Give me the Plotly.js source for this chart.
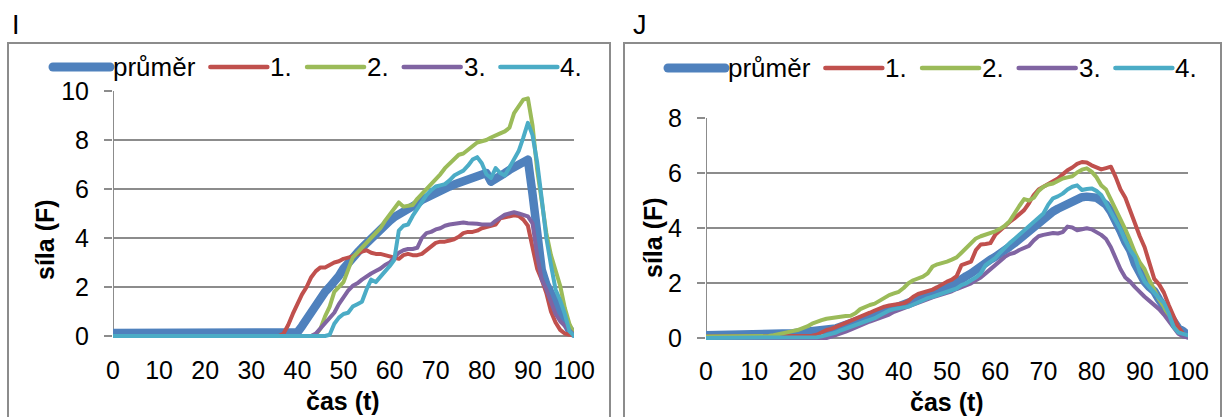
<!DOCTYPE html>
<html>
<head>
<meta charset="utf-8">
<script src="https://cdn.plot.ly/plotly-3.0.1.min.js"></script>
<style>
  html, body { margin: 0; padding: 0; background: #fff; }
  #graf { width: 1223px; height: 417px; }
  .scatterlayer .js-line { stroke-linecap: round; stroke-linejoin: round; }
  .shapelayer path { stroke-linecap: round; }
</style>
</head>
<body>
<div id="graf"></div>
<script>
// Time samples 0..100 shared by every series
const cas = Array.from({ length: 101 }, (_, i) => i);

// Series names and legend order
const nazvy = ['průměr', '1.', '2.', '3.', '4.'];

// ---------- Panel I ----------
const prumer_I = [
  0.12,0.12,0.12,0.12,0.12,0.12,0.12,0.12,0.12,0.12,
  0.12,0.12,0.12,0.12,0.12,0.12,0.12,0.12,0.12,0.12,
  0.12,0.12,0.12,0.12,0.12,0.12,0.12,0.12,0.12,0.12,
  0.12,0.12,0.12,0.12,0.12,0.12,0.12,0.12,0.12,0.12,
  0.15,0.4,0.7,1.0,1.3,1.55,1.8,2.0,2.2,2.45,
  2.75,3.0,3.2,3.4,3.6,3.8,3.92,4.15,4.35,4.55,
  4.7,4.85,4.95,5.05,5.12,5.25,5.4,5.55,5.65,5.78,
  5.85,5.93,6.0,6.1,6.18,6.25,6.35,6.45,6.5,6.57,
  6.62,6.65,6.3,6.45,6.55,6.65,6.78,6.9,7.05,7.15,
  7.2,5.8,4.3,2.7,2.1,1.7,1.4,1.0,0.6,0.25,
  0.1
];
const s1_I = [
  0,0,0,0,0,0,0,0,0,0,
  0,0,0,0,0,0,0,0,0,0,
  0,0,0,0,0,0,0,0,0,0,
  0,0,0,0,0,0,0,0.1,0.45,0.9,
  1.3,1.7,2.0,2.4,2.65,2.8,2.8,2.9,3.0,3.05,
  3.15,3.2,3.25,3.35,3.45,3.5,3.4,3.35,3.35,3.3,
  3.25,3.2,3.15,3.3,3.35,3.3,3.3,3.35,3.5,3.7,
  3.8,3.85,3.85,3.9,3.95,4.05,4.2,4.25,4.25,4.3,
  4.4,4.45,4.5,4.55,4.8,4.85,4.9,4.93,4.9,4.75,
  4.5,3.7,2.75,2.3,1.75,1.0,0.55,0.25,0.1,0.05,
  0.05
];
const s2_I = [
  0,0,0,0,0,0,0,0,0,0,
  0,0,0,0,0,0,0,0,0,0,
  0,0,0,0,0,0,0,0,0,0,
  0,0,0,0,0,0,0,0,0,0,
  0,0,0,0,0.05,0.3,0.8,1.2,1.8,2.0,
  2.2,2.7,3.2,3.4,3.6,3.8,3.95,4.2,4.4,4.7,
  4.95,5.25,5.45,5.28,5.3,5.35,5.6,5.8,5.95,6.15,
  6.35,6.6,6.85,7.05,7.25,7.4,7.45,7.6,7.75,7.9,
  7.95,8.0,8.1,8.2,8.27,8.35,8.5,9.1,9.35,9.65,
  9.7,8.6,6.8,5.5,4.2,3.3,2.6,2.05,1.15,0.5,
  0.1
];
const s3_I = [
  0,0,0,0,0,0,0,0,0,0,
  0,0,0,0,0,0,0,0,0,0,
  0,0,0,0,0,0,0,0,0,0,
  0,0,0,0,0,0,0,0,0,0,
  0,0,0,0,0.1,0.3,0.5,0.7,0.95,1.3,
  1.6,1.85,2.05,2.15,2.3,2.45,2.55,2.65,2.75,2.9,
  3.0,3.2,3.4,3.5,3.55,3.55,3.6,4.0,4.2,4.25,
  4.35,4.4,4.5,4.55,4.58,4.62,4.63,4.6,4.6,4.58,
  4.55,4.53,4.55,4.7,4.85,4.95,5.0,5.05,5.0,4.95,
  4.88,4.6,3.3,2.3,1.9,1.4,0.9,0.6,0.4,0.2,
  0.05
];
const s4_I = [
  0,0,0,0,0,0,0,0,0,0,
  0,0,0,0,0,0,0,0,0,0,
  0,0,0,0,0,0,0,0,0,0,
  0,0,0,0,0,0,0,0,0,0,
  0,0,0,0,0,0,0,0.05,0.5,0.75,
  0.9,0.95,1.2,1.3,1.4,1.9,2.3,2.2,2.4,2.6,
  2.85,3.1,4.3,4.5,4.55,4.9,5.2,5.5,5.75,5.95,
  6.1,6.15,6.2,6.35,6.55,6.65,6.75,6.95,7.2,7.3,
  7.05,6.6,6.45,6.85,6.65,6.55,6.9,7.25,7.55,8.1,
  8.7,8.2,7.1,5.6,4.0,2.9,1.9,1.45,0.9,0.2,
  0
];

// ---------- Panel J ----------
const prumer_J = [
  0.1,0.1,0.1,0.1,0.1,0.1,0.1,0.1,0.1,0.1,
  0.1,0.1,0.1,0.1,0.1,0.12,0.13,0.15,0.17,0.19,
  0.2,0.22,0.24,0.27,0.3,0.32,0.33,0.35,0.42,0.48,
  0.53,0.6,0.66,0.73,0.8,0.87,0.92,0.97,1.02,1.08,
  1.15,1.2,1.26,1.33,1.42,1.5,1.55,1.6,1.68,1.74,
  1.82,1.9,2.05,2.15,2.25,2.35,2.5,2.65,2.75,2.85,
  2.95,3.05,3.2,3.32,3.45,3.6,3.78,3.93,4.05,4.2,
  4.38,4.5,4.6,4.7,4.8,4.9,4.96,5.05,5.12,5.14,
  5.14,5.1,4.98,4.85,4.6,4.3,3.9,3.5,3.2,2.7,
  2.3,2.05,1.85,1.7,1.4,1.1,0.8,0.5,0.35,0.25,
  0.1
];
const s1_J = [
  0.05,0.05,0.05,0.05,0.05,0.05,0.05,0.05,0.05,0.05,
  0.05,0.05,0.05,0.05,0.05,0.05,0.05,0.05,0.05,0.05,
  0.05,0.05,0.08,0.12,0.2,0.29,0.33,0.4,0.47,0.55,
  0.62,0.68,0.75,0.85,0.92,1.0,1.08,1.14,1.18,1.2,
  1.22,1.26,1.35,1.5,1.6,1.65,1.7,1.76,1.85,1.97,
  2.05,2.12,2.25,2.65,2.72,2.78,3.2,3.4,3.42,3.45,
  3.75,3.92,4.05,4.22,4.35,4.5,4.65,4.9,5.2,5.4,
  5.5,5.62,5.7,5.8,5.95,6.1,6.2,6.33,6.4,6.38,
  6.28,6.22,6.13,6.18,6.23,5.85,5.4,5.1,4.6,4.1,
  3.7,3.3,2.7,2.15,1.95,1.65,1.2,0.8,0.4,0.15,
  0.05
];
const s2_J = [
  0.05,0.05,0.05,0.05,0.05,0.05,0.05,0.05,0.05,0.05,
  0.05,0.05,0.05,0.07,0.1,0.13,0.17,0.2,0.25,0.29,
  0.34,0.42,0.52,0.6,0.65,0.7,0.73,0.77,0.79,0.8,
  0.81,0.9,1.05,1.14,1.2,1.25,1.35,1.48,1.56,1.62,
  1.68,1.82,1.99,2.1,2.18,2.23,2.35,2.6,2.68,2.72,
  2.78,2.85,2.93,3.1,3.26,3.45,3.62,3.7,3.75,3.8,
  3.88,3.97,4.08,4.25,4.55,4.8,5.05,5.0,5.1,5.35,
  5.5,5.58,5.62,5.72,5.8,5.84,5.88,6.02,6.12,6.17,
  6.05,5.85,5.55,5.4,5.05,4.7,4.3,3.95,3.55,3.1,
  2.75,2.5,2.1,1.74,1.4,1.14,0.8,0.4,0.2,0.1,
  0.05
];
const s3_J = [
  0,0,0,0,0,0,0,0,0,0,
  0,0,0,0,0,0,0,0,0,0,
  0,0,0,0,0,0,0.05,0.1,0.17,0.23,
  0.3,0.38,0.46,0.53,0.6,0.66,0.72,0.78,0.85,0.95,
  1.02,1.08,1.15,1.22,1.3,1.36,1.42,1.48,1.53,1.58,
  1.65,1.7,1.78,1.85,1.93,1.99,2.1,2.2,2.35,2.5,
  2.65,2.8,2.95,3.05,3.1,3.2,3.28,3.35,3.55,3.7,
  3.75,3.8,3.82,3.8,3.85,4.05,4.02,3.92,3.95,3.99,
  3.95,3.85,3.75,3.6,3.3,2.9,2.5,2.2,2.05,1.85,
  1.65,1.5,1.35,1.2,1.05,0.85,0.6,0.35,0.15,0.05,
  0.02
];
const s4_J = [
  0,0,0,0,0,0,0,0,0,0,
  0,0,0,0,0,0,0,0,0,0,
  0,0,0,0.03,0.06,0.1,0.14,0.2,0.28,0.35,
  0.42,0.48,0.53,0.6,0.66,0.72,0.82,0.92,1.0,1.05,
  1.08,1.1,1.14,1.22,1.3,1.38,1.45,1.5,1.56,1.62,
  1.68,1.72,1.8,1.92,1.99,2.1,2.2,2.35,2.65,2.78,
  2.9,3.1,3.3,3.45,3.6,3.75,3.93,4.08,4.22,4.38,
  4.53,4.85,5.08,5.15,5.25,5.4,5.5,5.55,5.38,5.42,
  5.44,5.35,5.2,4.9,4.6,4.3,3.95,3.55,3.2,2.95,
  2.4,2.05,1.85,1.6,1.45,1.28,0.9,0.4,0.2,0.15,
  0.1
];

// ---------- Styling ----------
const W = 1223, H = 417;
const FONT = '"Liberation Sans", Arial, sans-serif';
const SEDA = '#8c8c8c';
const barvy = ['#4F81BD', '#C0504D', '#9BBB59', '#8064A2', '#4BACC6'];
const tloustky = [8.5, 4, 4, 4, 4];
const px = x => x / W;
const py = y => (H - y) / H;

const panely = [
  {
    nazev: 'I', data: [prumer_I, s1_I, s2_I, s3_I, s4_I],
    ymax: 10, ymin: -0.35,
    left: 113, right: 574, top: 91, zero: 336,
    ramecek: [8, 43, 610], stitek: [10, 25],
    legenda: [53, 67],
    ytitul: [45, 240], xtitul: [343, 401]
  },
  {
    nazev: 'J', data: [prumer_J, s1_J, s2_J, s3_J, s4_J],
    ymax: 8, ymin: -0.3,
    left: 706, right: 1188, top: 118, zero: 338,
    ramecek: [624, 43, 1221], stitek: [631, 25],
    legenda: [668, 68],
    ytitul: [653, 238], xtitul: [947, 402]
  }
];

const traces = [];
const layout = {
  width: W, height: H, autosize: false,
  margin: { l: 0, r: 0, t: 0, b: 0, pad: 0 },
  paper_bgcolor: '#fff', plot_bgcolor: 'rgba(0,0,0,0)',
  showlegend: false,
  font: { family: FONT, color: '#000' },
  shapes: [], annotations: []
};

// text width helper for the hand-built legend
const ctx = document.createElement('canvas').getContext('2d');
const FS = 25;
const FL = 26;
ctx.font = FL + 'px "Liberation Sans", Arial, sans-serif';

panely.forEach((p, k) => {
  const xa = k === 0 ? 'x' : 'x2';
  const ya = k === 0 ? 'y' : 'y2';
  const perUnit = (p.zero - p.top) / p.ymax;
  const bottomPx = p.zero - p.ymin * perUnit;

  layout[k === 0 ? 'xaxis' : 'xaxis2'] = {
    domain: [px(p.left), px(p.right)],
    anchor: ya, range: [0, 100], tick0: 0, dtick: 10,
    showgrid: false, zeroline: false, showline: false, ticks: '',
    tickfont: { size: FS, family: FONT, color: '#000' },
    ticklabelstandoff: 8, fixedrange: true
  };
  layout[k === 0 ? 'yaxis' : 'yaxis2'] = {
    domain: [py(bottomPx), py(p.top)],
    anchor: xa, range: [p.ymin, p.ymax], tick0: 0, dtick: 2,
    showgrid: true, gridcolor: SEDA, gridwidth: 2,
    zeroline: false, showline: false,
    ticks: 'outside', ticklen: 8, tickwidth: 2, tickcolor: SEDA,
    tickfont: { size: FS, family: FONT, color: '#000' },
    ticklabelstandoff: 10, fixedrange: true
  };

  p.data.forEach((vals, i) => {
    traces.push({
      type: 'scatter', mode: 'lines', name: nazvy[i],
      x: cas, y: vals, xaxis: xa, yaxis: ya,
      line: { color: barvy[i], width: tloustky[i] },
      hoverinfo: 'skip'
    });
  });

  // chart frame
  layout.shapes.push({
    type: 'rect', xref: 'paper', yref: 'paper', layer: 'below',
    x0: px(p.ramecek[0]), x1: px(p.ramecek[2]),
    y0: py(p.ramecek[1]), y1: py(H + 5),
    line: { color: SEDA, width: 2 }, fillcolor: 'rgba(0,0,0,0)'
  });
  // vertical axis line
  layout.shapes.push({
    type: 'line', xref: xa, yref: ya, layer: 'between',
    x0: 0, x1: 0, y0: 0, y1: p.ymax,
    line: { color: SEDA, width: 2 }
  });

  // panel letter
  layout.annotations.push({
    xref: 'paper', yref: 'paper', x: px(p.stitek[0]), y: py(p.stitek[1]),
    xanchor: 'left', yanchor: 'middle', showarrow: false,
    text: p.nazev, font: { size: 27, family: FONT, color: '#000' }
  });
  // axis titles
  layout.annotations.push({
    xref: 'paper', yref: 'paper', x: px(p.ytitul[0]), y: py(p.ytitul[1]),
    xanchor: 'center', yanchor: 'middle', showarrow: false, textangle: -90,
    text: 'síla (F)', font: { size: FS, family: FONT, color: '#000', weight: 'bold' }
  });
  layout.annotations.push({
    xref: 'paper', yref: 'paper', x: px(p.xtitul[0]), y: py(p.xtitul[1]),
    xanchor: 'center', yanchor: 'middle', showarrow: false,
    text: 'čas (t)', font: { size: FS, family: FONT, color: '#000', weight: 'bold' }
  });

  // legend row: long line swatch followed by its label
  let x = p.legenda[0];
  const ly = p.legenda[1];
  nazvy.forEach((n, i) => {
    layout.shapes.push({
      type: 'line', xref: 'paper', yref: 'paper', layer: 'above',
      x0: px(x), x1: px(x + 57), y0: py(ly), y1: py(ly),
      line: { color: barvy[i], width: i === 0 ? 9 : 4.5 }
    });
    layout.annotations.push({
      xref: 'paper', yref: 'paper', x: px(x + 58), y: py(ly),
      xanchor: 'left', yanchor: 'middle', showarrow: false,
      text: n, font: { size: FL, family: FONT, color: '#000' }
    });
    x += 60 + ctx.measureText(n).width + 15;
  });
});

Plotly.newPlot('graf', traces, layout, { displayModeBar: false, staticPlot: true });
</script>
</body>
</html>
